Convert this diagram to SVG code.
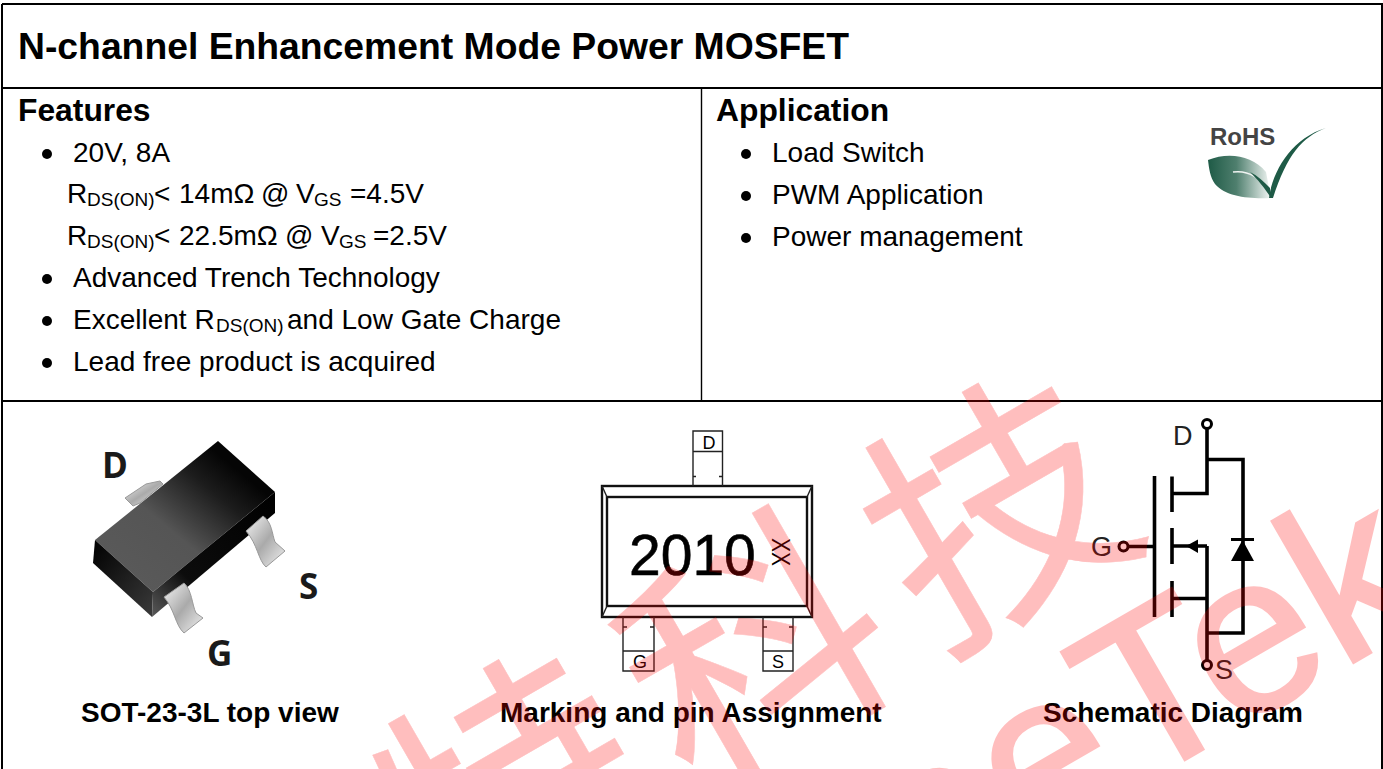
<svg xmlns="http://www.w3.org/2000/svg" width="1383" height="769" viewBox="0 0 1383 769">
<style>
text{font-family:"Liberation Sans",Arial,sans-serif;fill:#000}
.h1{font-size:37.3px;font-weight:700}
.h2{font-size:31.8px;font-weight:700}
.b{font-size:28px}
.s{font-size:19px}
.cap{font-size:28px;font-weight:700}
.frame{stroke:#000;fill:none}
.o{fill:none;stroke:#111;stroke-width:2.4}
.o1{fill:none;stroke:#222;stroke-width:1.4}
.w{fill:none;stroke:#000;stroke-width:3.6}
.w3{fill:none;stroke:#000;stroke-width:3}
.pin{font-size:18px}
.sch{font-size:27px;fill:#222}
.chiplabel{font-family:"Open Sans",sans-serif;font-size:35px;font-weight:700;fill:#1a1a1a}
.wm{opacity:.25;stroke:#f00}
</style>
<defs>
<linearGradient id="top" x1="0.1" y1="0.9" x2="0.8" y2="0.2"><stop offset="0" stop-color="#5a5a5a"/><stop offset=".45" stop-color="#555"/><stop offset=".8" stop-color="#1c1c1c"/><stop offset="1" stop-color="#050505"/></linearGradient>
<linearGradient id="left" x1="0" y1="0" x2="1" y2="1"><stop offset="0" stop-color="#000"/><stop offset="1" stop-color="#3a3a3a"/></linearGradient>
<linearGradient id="right" x1="0" y1="1" x2="1" y2="0"><stop offset="0" stop-color="#5a5a5a"/><stop offset=".3" stop-color="#0c0c0c"/><stop offset="1" stop-color="#000"/></linearGradient>
<linearGradient id="lead" x1="0" y1="0" x2="1" y2="1"><stop offset="0" stop-color="#f4f4f4"/><stop offset=".5" stop-color="#aaa"/><stop offset="1" stop-color="#f2f2f2"/></linearGradient>
<linearGradient id="leaf" x1="0" y1="0" x2="1" y2="0"><stop offset="0" stop-color="#1e5a46"/><stop offset=".45" stop-color="#4f7f6e"/><stop offset="1" stop-color="#f4f8f6"/></linearGradient>
</defs>

<g id="frame">
<path class="frame" stroke-width="2" d="M2,4H1382V769M2,4V769"/>
<path class="frame" stroke-width="2" d="M2,88H1382"/>
<path class="frame" stroke-width="2" d="M2,401H1382"/>
<path class="frame" stroke-width="1.4" d="M701.500,88V401"/>
</g>

<g id="title"><text class="h1" x="18" y="59">N-channel Enhancement Mode Power MOSFET</text></g>

<g id="features">
<text class="h2" x="18" y="121">Features</text>
<circle cx="47" cy="154" r="5"/><circle cx="47" cy="279" r="5"/><circle cx="47" cy="321" r="5"/><circle cx="47" cy="363" r="5"/>
<text class="b" x="73" y="162">20V, 8A</text>
<text class="b" x="67" y="203">R</text><text class="s" x="87" y="206">DS(ON)</text><text class="b" x="154" y="203">&lt;</text><text class="b" x="179" y="203">14mΩ</text><text class="b" x="261" y="203">@</text><text class="b" x="296" y="203">V</text><text class="s" x="314" y="206">GS</text><text class="b" x="350" y="203">=4.5V</text>
<text class="b" x="67" y="245">R</text><text class="s" x="87" y="248">DS(ON)</text><text class="b" x="154" y="245">&lt;</text><text class="b" x="179" y="245">22.5mΩ</text><text class="b" x="285" y="245">@</text><text class="b" x="321" y="245">V</text><text class="s" x="339" y="248">GS</text><text class="b" x="373" y="245">=2.5V</text>
<text class="b" x="73" y="287">Advanced Trench Technology</text>
<text class="b" x="73" y="329">Excellent R</text><text class="s" x="216" y="332">DS(ON)</text><text class="b" x="287" y="329">and Low Gate Charge</text>
<text class="b" x="73" y="371">Lead free product is acquired</text>
</g>

<g id="application">
<text class="h2" x="716" y="121">Application</text>
<circle cx="746" cy="154" r="5"/><circle cx="746" cy="196" r="5"/><circle cx="746" cy="238" r="5"/>
<text class="b" x="772" y="162">Load Switch</text>
<text class="b" x="772" y="204">PWM Application</text>
<text class="b" x="772" y="246">Power management</text>
</g>

<g id="rohs">
<path fill="url(#leaf)" d="M1208,160C1228,152 1252,155 1266,172L1271,198C1250,199 1226,197 1215,184C1210,177 1209,168 1208,160Z"/>
<path fill="none" stroke="#f0f4f2" stroke-width="1.500" d="M1233,172C1248,170 1260,178 1268,190"/>
<path fill="#1e5a46" d="M1269,198C1273,170 1292,138 1326,128C1302,137 1287,155 1273,198Z"/>
<path fill="#1e5a46" d="M1250,172C1258,176 1264,182 1270,188L1271,198C1264,187 1258,180 1250,172Z"/>
<text x="1210" y="145" font-size="24" font-weight="700" style="fill:#444">RoHS</text>
</g>

<g id="chip">
<path fill="url(#lead)" stroke="#999" d="M125,498L146,484L160,481L163,484L140,503L133,506Z"/>
<polygon fill="url(#top)" points="95,540 218,441 275,492 153,592"/>
<polygon fill="url(#left)" points="95,540 153,592 152,617 93,563"/>
<polygon fill="url(#right)" points="153,592 275,492 275,513 152,617"/>
<path fill="url(#lead)" stroke="#999" d="M246,531L263,516C272,522 272,534 275,542L285,551L266,567C258,560 258,545 246,531Z"/>
<path fill="url(#lead)" stroke="#999" d="M164,597L184,583C192,590 192,605 196,613L203,618L184,633C175,625 175,610 164,597Z"/>
<text class="chiplabel" x="102" y="478">D</text>
<text class="chiplabel" x="299" y="599">S</text>
<text class="chiplabel" x="207" y="666">G</text>
</g>

<g id="marking">
<rect class="o" x="602" y="486" width="210" height="131"/>
<rect class="o" x="607" y="497" width="200" height="109"/>
<path class="o1" d="M602,486L607,497M812,486L807,497M602,617L607,606M812,617L807,606"/>
<path class="o1" d="M693,486V431H722.500V486M693,451.500H722.500M693,476.500H696M722.500,476.500H719"/>
<path class="o1" d="M623,617V671H654V617M623,651H654M623,627H627M654,627H650"/>
<path class="o1" d="M763,617V671H793V617M763,651H793M763,627H767M793,627H789"/>
<text class="pin" x="709" y="449" text-anchor="middle">D</text>
<text class="pin" x="640" y="668" text-anchor="middle">G</text>
<text class="pin" x="778" y="668" text-anchor="middle">S</text>
<text x="629" y="575" font-size="57" stroke="#000" stroke-width=".6">2010</text>
<text transform="translate(771.500,538) rotate(90) scale(1,1.270)" font-size="21">XX</text>
</g>

<g id="schematic">
<circle class="w3" cx="1207" cy="424" r="4.500"/>
<circle class="w3" cx="1207" cy="665" r="4.500"/>
<circle class="w3" cx="1123.500" cy="546.500" r="4.500"/>
<path class="w" d="M1207,429V493.500H1173M1207,459.500H1243V633H1207M1207,546V660M1173,546H1207M1173,598.500H1207M1128,546.500H1154"/>
<path class="w" d="M1154.500,476V617M1172,476.500V512M1172,528V564M1172,581V617"/>
<polygon points="1186,546 1198,539.500 1198,553"/>
<path d="M1231,539.500H1254" class="w3"/>
<polygon points="1242.500,540 1254,561 1231,561"/>
<text class="sch" x="1173" y="445">D</text>
<text class="sch" x="1091" y="556">G</text>
<text class="sch" x="1215" y="679">S</text>
</g>

<g id="captions">
<text class="cap" x="81" y="722">SOT-23-3L top view</text>
<text class="cap" x="500" y="722">Marking and pin Assignment</text>
<text class="cap" x="1043" y="722">Schematic Diagram</text>
</g>

<g id="watermark">
<text class="wm" transform="translate(206,1076) rotate(-30)" font-size="255" letter-spacing="25" stroke-width=".5" style="font-family:'Noto Sans CJK SC',sans-serif;fill:#f00">西特科技</text>
<text class="wm" transform="translate(1134.6,788.8) rotate(-30)" font-size="225" text-anchor="end" stroke-width="3" style="fill:#f00">See</text>
<text class="wm" transform="translate(1134.6,788.8) rotate(-30)" font-size="225" stroke-width="3" style="fill:#f00">Tek</text>
</g>
</svg>
